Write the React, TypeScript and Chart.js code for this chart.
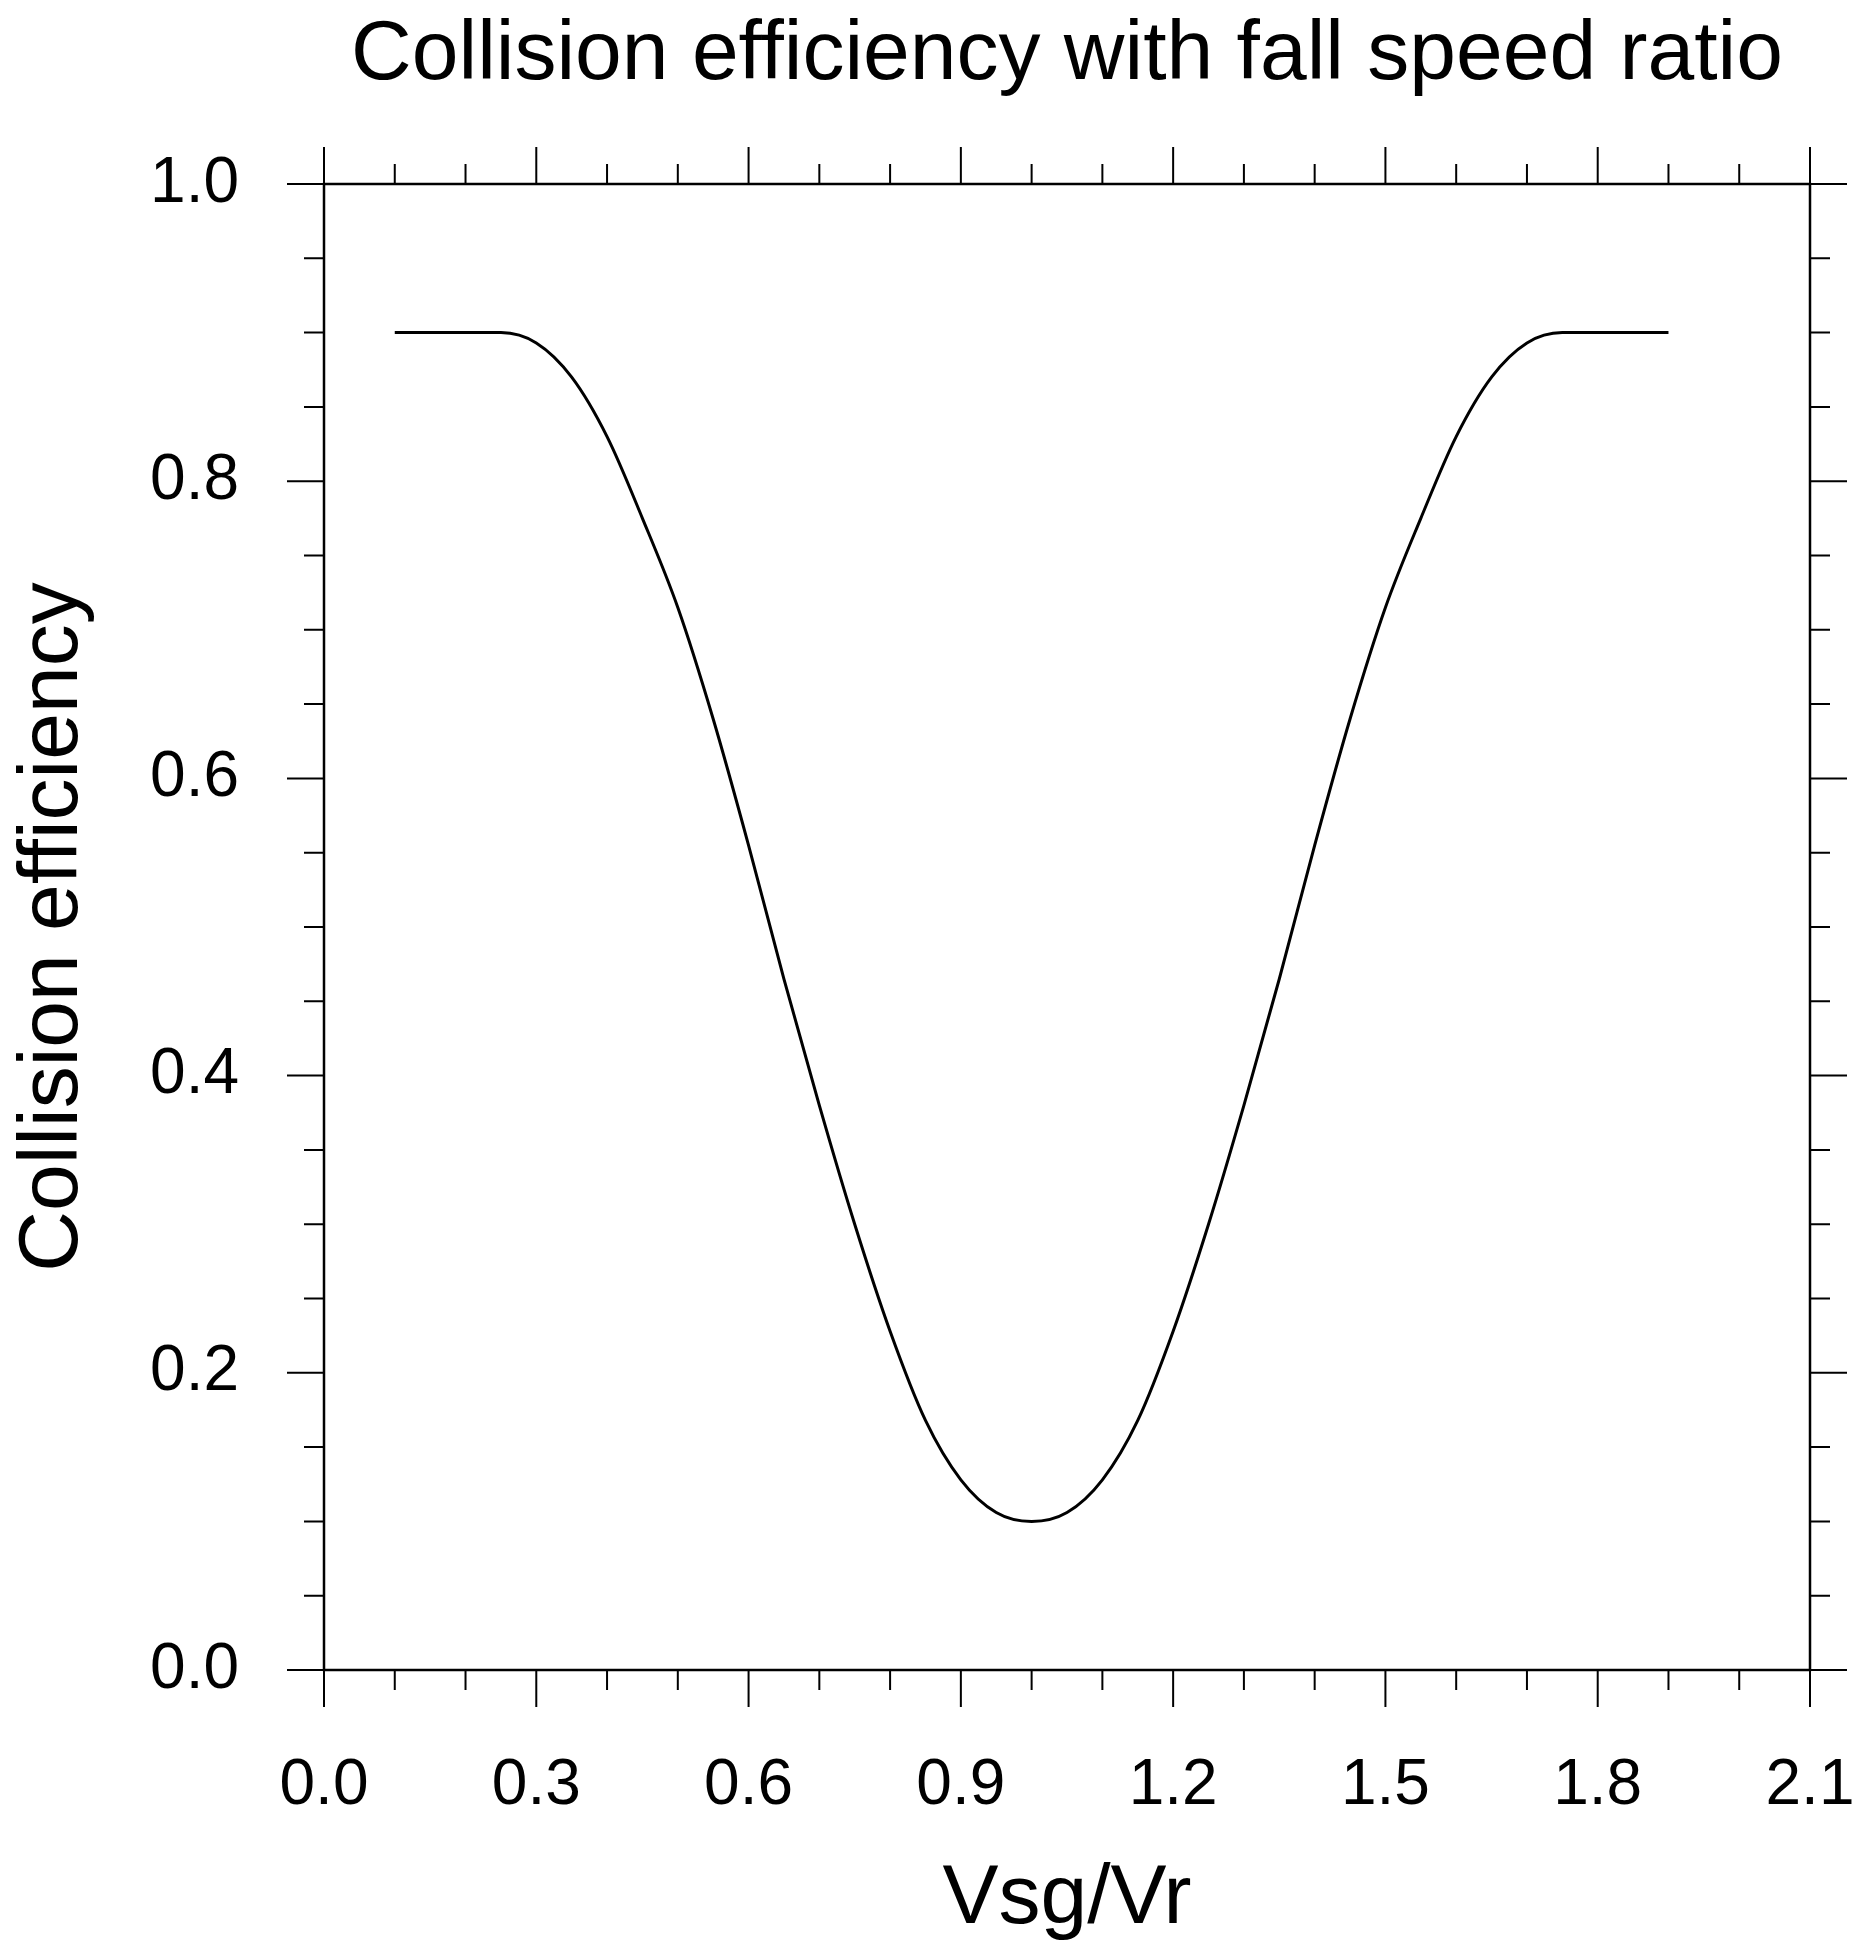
import React, { useEffect, useRef } from "react";
import { Chart, registerables } from "chart.js";
Chart.register(...registerables);

const xValues = [0.1, 0.15, 0.2, 0.25, 0.3, 0.35, 0.4, 0.45, 0.5, 0.55, 0.6, 0.65, 0.7, 0.75, 0.8, 0.85, 0.9, 0.95, 1.0,
  1.05, 1.1, 1.15, 1.2, 1.25, 1.3, 1.35, 1.4, 1.45, 1.5, 1.55, 1.6, 1.65, 1.7, 1.75, 1.8, 1.85, 1.9];
const efficiency = [0.9, 0.9, 0.9, 0.9, 0.893, 0.87, 0.83, 0.775, 0.715, 0.64, 0.555, 0.465, 0.38, 0.30, 0.228, 0.168, 0.128, 0.106, 0.1,
  0.106, 0.128, 0.168, 0.228, 0.30, 0.38, 0.465, 0.555, 0.64, 0.715, 0.775, 0.83, 0.87, 0.893, 0.9, 0.9, 0.9, 0.9];
const xMajorTicks = [0, 0.3, 0.6, 0.9, 1.2, 1.5, 1.8, 2.1];
const yMajorTicks = [0, 0.2, 0.4, 0.6, 0.8, 1.0];
const title = "Collision efficiency with fall speed ratio";
const xTitle = "Vsg/Vr";
const yTitle = "Collision efficiency";

const FONT = "'Liberation Sans', Arial, sans-serif";

const axesPlugin = {
  id: "ncarAxes",
  afterDraw(chart: any) {
    const ctx = chart.ctx;
    const a = chart.chartArea;
    const xs = chart.scales.x;
    const ys = chart.scales.y;
    const MAJ = 37, MIN = 20;
    ctx.save();
    ctx.strokeStyle = "#000";
    ctx.lineWidth = 2.5;
    ctx.strokeRect(a.left, a.top, a.right - a.left, a.bottom - a.top);
    ctx.lineWidth = 2;
    ctx.beginPath();
    for (let i = 0; i <= 21; i++) {
      const v = i / 10;
      const px = xs.getPixelForValue(v);
      const len = i % 3 === 0 ? MAJ : MIN;
      ctx.moveTo(px, a.bottom); ctx.lineTo(px, a.bottom + len);
      ctx.moveTo(px, a.top); ctx.lineTo(px, a.top - len);
    }
    for (let i = 0; i <= 20; i++) {
      const v = i / 20;
      const py = ys.getPixelForValue(v);
      const len = i % 4 === 0 ? MAJ : MIN;
      ctx.moveTo(a.left, py); ctx.lineTo(a.left - len, py);
      ctx.moveTo(a.right, py); ctx.lineTo(a.right + len, py);
    }
    ctx.stroke();
    ctx.fillStyle = "#000";
    ctx.font = `64px ${FONT}`;
    ctx.textAlign = "center";
    ctx.textBaseline = "middle";
    xMajorTicks.forEach((v) => ctx.fillText(v.toFixed(1), xs.getPixelForValue(v), 1786));
    ctx.textAlign = "right";
    yMajorTicks.forEach((v) => ctx.fillText(v.toFixed(1), 239, ys.getPixelForValue(v)));
    ctx.textAlign = "center";
    ctx.font = `84px ${FONT}`;
    ctx.fillText(xTitle, (a.left + a.right) / 2, 1900);
    ctx.fillText(title, (a.left + a.right) / 2, 56);
    ctx.translate(54, (a.top + a.bottom) / 2);
    ctx.rotate(-Math.PI / 2);
    ctx.fillText(yTitle, 0, 0);
    ctx.restore();
  },
};

export default function App() {
  const ref = useRef<HTMLCanvasElement>(null);
  useEffect(() => {
    const chart = new Chart(ref.current!, {
      type: "line",
      data: {
        datasets: [{
          data: xValues.map((x, i) => ({ x, y: efficiency[i] })),
          borderColor: "#000",
          borderWidth: 3,
          pointRadius: 0,
          cubicInterpolationMode: "monotone",
        }],
      },
      options: {
        animation: false,
        responsive: false,
        devicePixelRatio: 1,
        layout: { padding: { left: 324, right: 59, top: 184, bottom: 289 } },
        plugins: { legend: { display: false }, tooltip: { enabled: false } },
        scales: {
          x: { type: "linear", min: 0, max: 2.1, display: false },
          y: { type: "linear", min: 0, max: 1, display: false },
        },
      },
      plugins: [axesPlugin],
    });
    return () => chart.destroy();
  }, []);
  return (
    <canvas ref={ref} width={1869} height={1959}
      style={{ position: "absolute", left: 0, top: 0, width: 1869, height: 1959, background: "#fff" }} />
  );
}
